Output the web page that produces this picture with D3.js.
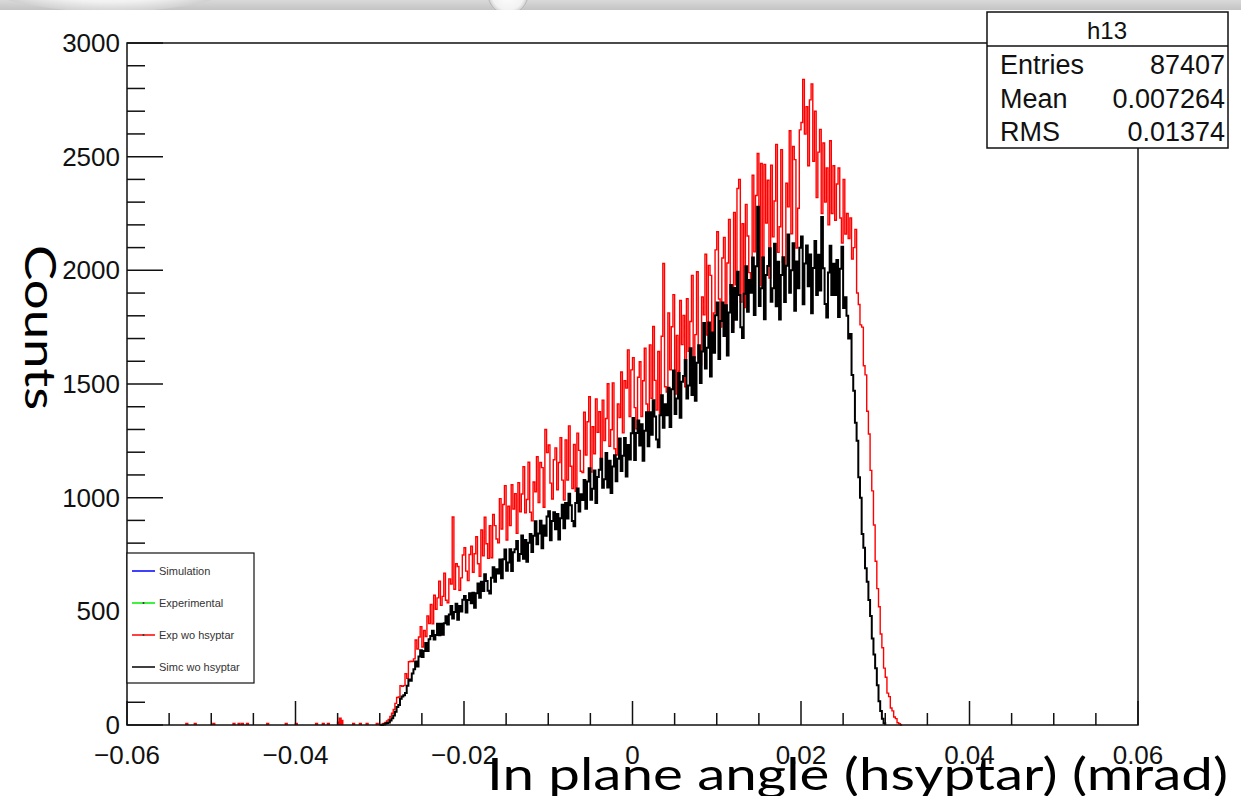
<!DOCTYPE html>
<html>
<head>
<meta charset="utf-8">
<script src="https://cdn.jsdelivr.net/npm/d3@7"></script>
<style>
  body { margin: 0; background: #fff; overflow: hidden; }
  svg { display: block; }
</style>
</head>
<body>
<div id="chart"></div>
<script>
// histogram binning (600 bins over -0.06 .. 0.06)
var binWidth = 0.0002;
var simcStart = -0.030;
var expStart = -0.030;

// Simc wo hsyptar (black), one value per bin from simcStart
var simcCounts = [
  0, 0, 2, 5, 9, 11, 20, 30, 42, 58,
  79, 88, 116, 125, 131, 141, 173, 200, 195, 227,
  245, 279, 257, 301, 329, 299, 325, 361, 326, 377,
  391, 415, 376, 396, 445, 395, 445, 397, 448, 478,
  442, 486, 524, 468, 497, 533, 463, 524, 499, 551,
  567, 495, 550, 579, 536, 582, 516, 580, 622, 560,
  630, 589, 663, 633, 590, 578, 648, 694, 630, 685,
  666, 728, 645, 729, 772, 679, 715, 773, 677, 760,
  773, 809, 723, 752, 834, 731, 814, 718, 802, 840,
  761, 832, 896, 795, 842, 899, 778, 878, 832, 917,
  940, 813, 897, 936, 861, 928, 816, 910, 969, 865,
  977, 908, 1017, 967, 897, 874, 976, 1040, 939, 1015,
  990, 1078, 951, 1071, 1129, 991, 1039, 1119, 977, 1091,
  1123, 1171, 1044, 1081, 1197, 1045, 1162, 1020, 1137, 1187,
  1072, 1171, 1260, 1117, 1184, 1263, 1093, 1232, 1168, 1283,
  1350, 1166, 1284, 1339, 1230, 1323, 1162, 1294, 1376, 1226,
  1376, 1277, 1429, 1357, 1256, 1222, 1362, 1451, 1308, 1411,
  1362, 1484, 1311, 1477, 1559, 1368, 1436, 1548, 1352, 1510,
  1535, 1606, 1436, 1493, 1657, 1452, 1618, 1426, 1594, 1670,
  1504, 1643, 1768, 1568, 1660, 1771, 1533, 1727, 1637, 1802,
  1858, 1610, 1777, 1858, 1711, 1846, 1625, 1815, 1935, 1729,
  1922, 1783, 1994, 1891, 1750, 1702, 1897, 2018, 1818, 1957,
  1901, 2056, 1804, 2018, 2280, 1843, 1921, 2056, 1785, 1979,
  2019, 2097, 1862, 1921, 2117, 1842, 2038, 1784, 1980, 2058,
  1861, 2020, 2158, 1901, 2000, 2119, 1822, 2039, 1921, 2099,
  2149, 1851, 2030, 2109, 1930, 2070, 1811, 2010, 2129, 1891,
  2069, 1911, 2235, 2009, 1852, 1793, 1990, 2108, 1891, 2029,
  1891, 2046, 1795, 2007, 2104, 1834, 1882, 1800, 1700, 1720,
  1540, 1470, 1330, 1250, 1090, 1000, 840, 780, 690, 630,
  550, 480, 380, 310, 250, 175, 105, 62, 28, 8
];

// Exp wo hsyptar (red), one value per bin from expStart
var expCounts = [
  0, 3, 7, 11, 18, 24, 38, 52, 68, 95,
  121, 123, 173, 170, 173, 226, 205, 278, 281, 279,
  291, 374, 334, 387, 432, 343, 416, 389, 480, 446,
  530, 445, 571, 509, 559, 633, 526, 566, 668, 549,
  537, 643, 620, 915, 597, 709, 697, 593, 647, 748,
  780, 677, 635, 750, 787, 672, 753, 828, 709, 654,
  858, 744, 914, 797, 733, 877, 736, 926, 877, 818,
  801, 996, 862, 970, 1053, 814, 962, 877, 1057, 950,
  1018, 843, 1066, 938, 1016, 1136, 933, 992, 1156, 936,
  898, 1069, 1026, 1180, 978, 1155, 1132, 958, 1300, 1199,
  1232, 1064, 994, 1167, 1219, 1035, 1155, 1264, 1077, 989,
  1254, 1078, 1316, 1138, 1040, 1234, 1028, 1284, 1208, 1116,
  1110, 1376, 1188, 1334, 1444, 1113, 1312, 1193, 1434, 1287,
  1378, 1136, 1429, 1251, 1348, 1501, 1226, 1299, 1505, 1215,
  1188, 1412, 1352, 1553, 1285, 1515, 1482, 1650, 1357, 1562,
  1616, 1396, 1303, 1530, 1598, 1357, 1514, 1657, 1412, 1299,
  1672, 1437, 1753, 1516, 1385, 1643, 1369, 1710, 2030, 1488,
  1465, 1813, 1563, 1752, 1893, 1456, 1714, 1556, 1867, 1673,
  1802, 1488, 1875, 1644, 1775, 1978, 1619, 1717, 1994, 1611,
  1584, 1883, 1804, 2071, 1715, 2022, 1978, 1671, 1812, 2090,
  2170, 1874, 1750, 2054, 2145, 1822, 2032, 2224, 1895, 1746,
  2255, 1936, 2360, 2400, 1860, 2205, 1836, 2290, 2151, 1990,
  1957, 2418, 2081, 2329, 2514, 1932, 2470, 2058, 2466, 2208,
  2396, 1966, 2463, 2147, 2305, 2554, 2079, 2192, 2531, 2034,
  2006, 2383, 2279, 2614, 2161, 2545, 2487, 2098, 2273, 2618,
  2650, 2840, 2600, 2720, 2460, 2750, 2820, 2480, 2700, 2320,
  2520, 2620, 2250, 2560, 2300, 2450, 2200, 2570, 2250, 2460,
  2220, 2380, 2450, 2230, 2120, 2400, 2160, 2250, 2140, 2230,
  2050, 2100, 2180, 1900, 1850, 1760, 1750, 1580, 1540, 1380,
  1280, 1120, 1030, 880, 720, 600, 520, 400, 340, 250,
  210, 140, 125, 75, 62, 35, 28, 10, 6, 0
];

// sparse red entries in the left tail (bin low edge, counts)
var expTailX = [-0.0530, -0.0520, -0.0498, -0.0474, -0.0468, -0.0464, -0.0458, -0.0434,
  -0.0412, -0.0400, -0.0376, -0.0368, -0.0362, -0.0350, -0.0348, -0.0346,
  -0.0332, -0.0324, -0.0316, -0.0304];
var expTailCounts = [6, 6, 6, 6, 6, 6, 6, 6, 6, 6, 6, 6, 6, 12, 30, 20, 6, 6, 6, 6];

var xTicks = [-0.06, -0.04, -0.02, 0, 0.02, 0.04, 0.06];
var xTickLabels = ["\u22120.06", "\u22120.04", "\u22120.02", "0", "0.02", "0.04", "0.06"];
var yTicks = [0, 500, 1000, 1500, 2000, 2500, 3000];

var legendLabels = ["Simulation", "Experimental", "Exp wo hsyptar", "Simc wo hsyptar"];
var legendColors = ["#0000ff", "#00ee00", "#ff0000", "#000000"];
var legendMarker = [false, true, true, false];

var statsTitle = "h13";
var statsNames = ["Entries", "Mean", "RMS"];
var statsValues = ["87407", "0.007264", "0.01374"];

// set the dimensions of the page and the frame
var W = 1241, H = 796;
var frame = {left: 127, right: 1138, top: 43, bottom: 725};

var svg = d3.select("#chart").append("svg")
    .attr("width", W)
    .attr("height", H);

// slide strip at the very top
var defs = svg.append("defs");
var grad = defs.append("linearGradient").attr("id", "band")
    .attr("x1", 0).attr("y1", 0).attr("x2", 0).attr("y2", 1);
grad.append("stop").attr("offset", "0%").attr("stop-color", "#d9d9d9");
grad.append("stop").attr("offset", "100%").attr("stop-color", "#c4c4c4");
var rg = defs.append("radialGradient").attr("id", "blob");
rg.append("stop").attr("offset", "0%").attr("stop-color", "#ffffff");
rg.append("stop").attr("offset", "80%").attr("stop-color", "#f2f2f2");
rg.append("stop").attr("offset", "100%").attr("stop-color", "#d0d0d0");
defs.append("clipPath").attr("id", "bandclip")
    .append("rect").attr("x", 0).attr("y", 0).attr("width", W).attr("height", 10);
var band = svg.append("g").attr("clip-path", "url(#bandclip)");
band.append("rect").attr("x", 0).attr("y", 0).attr("width", W).attr("height", 10)
    .attr("fill", "url(#band)");
band.append("ellipse").attr("cx", 110).attr("cy", -40).attr("rx", 160).attr("ry", 52)
    .attr("fill", "url(#blob)");
band.append("circle").attr("cx", 508).attr("cy", -6).attr("r", 20)
    .attr("fill", "url(#blob)").attr("stroke", "#b8b8b8");

// set the ranges
var x = d3.scaleLinear().domain([-0.06, 0.06]).range([frame.left, frame.right]);
var y = d3.scaleLinear().domain([0, 3000]).range([frame.bottom, frame.top]);

// build step outline for a histogram
function histPoints(start, counts) {
    var pts = [[start, 0]];
    counts.forEach(function(c, i) {
        pts.push([start + i * binWidth, c]);
    });
    pts.push([start + counts.length * binWidth, 0]);
    return pts;
}
var step = d3.line()
    .x(function(d) { return x(d[0]); })
    .y(function(d) { return y(d[1]); })
    .curve(d3.curveStepAfter);

var plot = svg.append("g");

// red tail entries
expTailX.forEach(function(xv, i) {
    plot.append("path")
        .attr("d", step(histPoints(xv, [expTailCounts[i]])))
        .attr("fill", "none")
        .attr("stroke", "#ff0000")
        .attr("stroke-width", 1.6);
});

plot.append("path")
    .attr("d", step(histPoints(expStart, expCounts)))
    .attr("fill", "none")
    .attr("stroke", "#ff0000")
    .attr("stroke-width", 1.4);

plot.append("path")
    .attr("d", step(histPoints(simcStart, simcCounts)))
    .attr("fill", "none")
    .attr("stroke", "#000000")
    .attr("stroke-width", 2);

// frame
svg.append("rect")
    .attr("x", frame.left).attr("y", frame.top)
    .attr("width", frame.right - frame.left)
    .attr("height", frame.bottom - frame.top)
    .attr("fill", "none")
    .attr("stroke", "#111")
    .attr("stroke-width", 1.5);

// y axis ticks: minor every 100, major every 500
var yMinor = d3.range(0, 3001, 100);
svg.append("g").selectAll("line")
    .data(yMinor)
    .enter().append("line")
    .attr("x1", frame.left)
    .attr("x2", function(d) { return frame.left + (d % 500 === 0 ? 36 : 18); })
    .attr("y1", function(d) { return y(d); })
    .attr("y2", function(d) { return y(d); })
    .attr("stroke", "#111")
    .attr("stroke-width", 1.5);

svg.append("g").selectAll("text")
    .data(yTicks)
    .enter().append("text")
    .attr("x", frame.left - 7)
    .attr("y", function(d) { return y(d) + 9; })
    .attr("text-anchor", "end")
    .attr("font-family", "Liberation Sans, Arial, sans-serif")
    .attr("font-size", 26)
    .attr("fill", "#111")
    .text(function(d) { return d; });

// x axis ticks: minor every 0.005, major every 0.02
var xMinor = d3.range(0, 25).map(function(i) { return -0.06 + i * 0.005; });
svg.append("g").selectAll("line")
    .data(xMinor)
    .enter().append("line")
    .attr("x1", function(d) { return x(d); })
    .attr("x2", function(d) { return x(d); })
    .attr("y1", frame.bottom)
    .attr("y2", function(d, i) { return frame.bottom - (i % 4 === 0 ? 24 : 12); })
    .attr("stroke", "#111")
    .attr("stroke-width", 1.5);

svg.append("g").selectAll("text")
    .data(xTicks)
    .enter().append("text")
    .attr("x", function(d) { return x(d); })
    .attr("y", 764)
    .attr("text-anchor", "middle")
    .attr("font-family", "Liberation Sans, Arial, sans-serif")
    .attr("font-size", 26)
    .attr("fill", "#111")
    .text(function(d, i) { return xTickLabels[i]; });

// axis titles
svg.append("text")
    .attr("transform", "translate(25,245) rotate(90)")
    .attr("font-family", "Lato, sans-serif")
    .attr("font-size", 42)
    .attr("textLength", 165)
    .attr("lengthAdjust", "spacingAndGlyphs")
    .attr("fill", "#000")
    .text("Counts");

svg.append("text")
    .attr("x", 487)
    .attr("y", 790)
    .attr("font-family", "Lato, sans-serif")
    .attr("font-size", 44)
    .attr("textLength", 741)
    .attr("lengthAdjust", "spacingAndGlyphs")
    .attr("fill", "#000")
    .text("In plane angle (hsyptar) (mrad)");

// legend
var lg = svg.append("g");
lg.append("rect")
    .attr("x", frame.left).attr("y", 553)
    .attr("width", 127).attr("height", 130)
    .attr("fill", "#fff")
    .attr("stroke", "#111")
    .attr("stroke-width", 1.2);
legendLabels.forEach(function(name, i) {
    var ly = 571 + i * 32;
    lg.append("line")
        .attr("x1", 132).attr("x2", 155)
        .attr("y1", ly).attr("y2", ly)
        .attr("stroke", legendColors[i])
        .attr("stroke-width", 1.5);
    if (legendMarker[i]) {
        lg.append("circle").attr("cx", 143.5).attr("cy", ly).attr("r", 1)
            .attr("fill", "#333");
    }
    lg.append("text")
        .attr("x", 159).attr("y", ly + 4)
        .attr("font-family", "Liberation Sans, Arial, sans-serif")
        .attr("font-size", 11)
        .attr("fill", "#333")
        .text(name);
});

// stats box
var sb = svg.append("g");
sb.append("rect")
    .attr("x", 987).attr("y", 12)
    .attr("width", 241).attr("height", 136)
    .attr("fill", "#fff")
    .attr("stroke", "#111")
    .attr("stroke-width", 1.5);
sb.append("line")
    .attr("x1", 987).attr("x2", 1228)
    .attr("y1", 46).attr("y2", 46)
    .attr("stroke", "#111").attr("stroke-width", 1.5);
sb.append("text")
    .attr("x", 1107).attr("y", 39)
    .attr("text-anchor", "middle")
    .attr("font-family", "Liberation Sans, Arial, sans-serif")
    .attr("font-size", 24)
    .attr("fill", "#111")
    .text(statsTitle);
statsNames.forEach(function(name, i) {
    var by = 74 + i * 33.5;
    sb.append("text")
        .attr("x", 1000).attr("y", by)
        .attr("font-family", "Liberation Sans, Arial, sans-serif")
        .attr("font-size", 27)
        .attr("fill", "#111")
        .text(name);
    sb.append("text")
        .attr("x", 1225).attr("y", by)
        .attr("text-anchor", "end")
        .attr("font-family", "Liberation Sans, Arial, sans-serif")
        .attr("font-size", 27)
        .attr("fill", "#111")
        .text(statsValues[i]);
});
</script>
</body>
</html>
